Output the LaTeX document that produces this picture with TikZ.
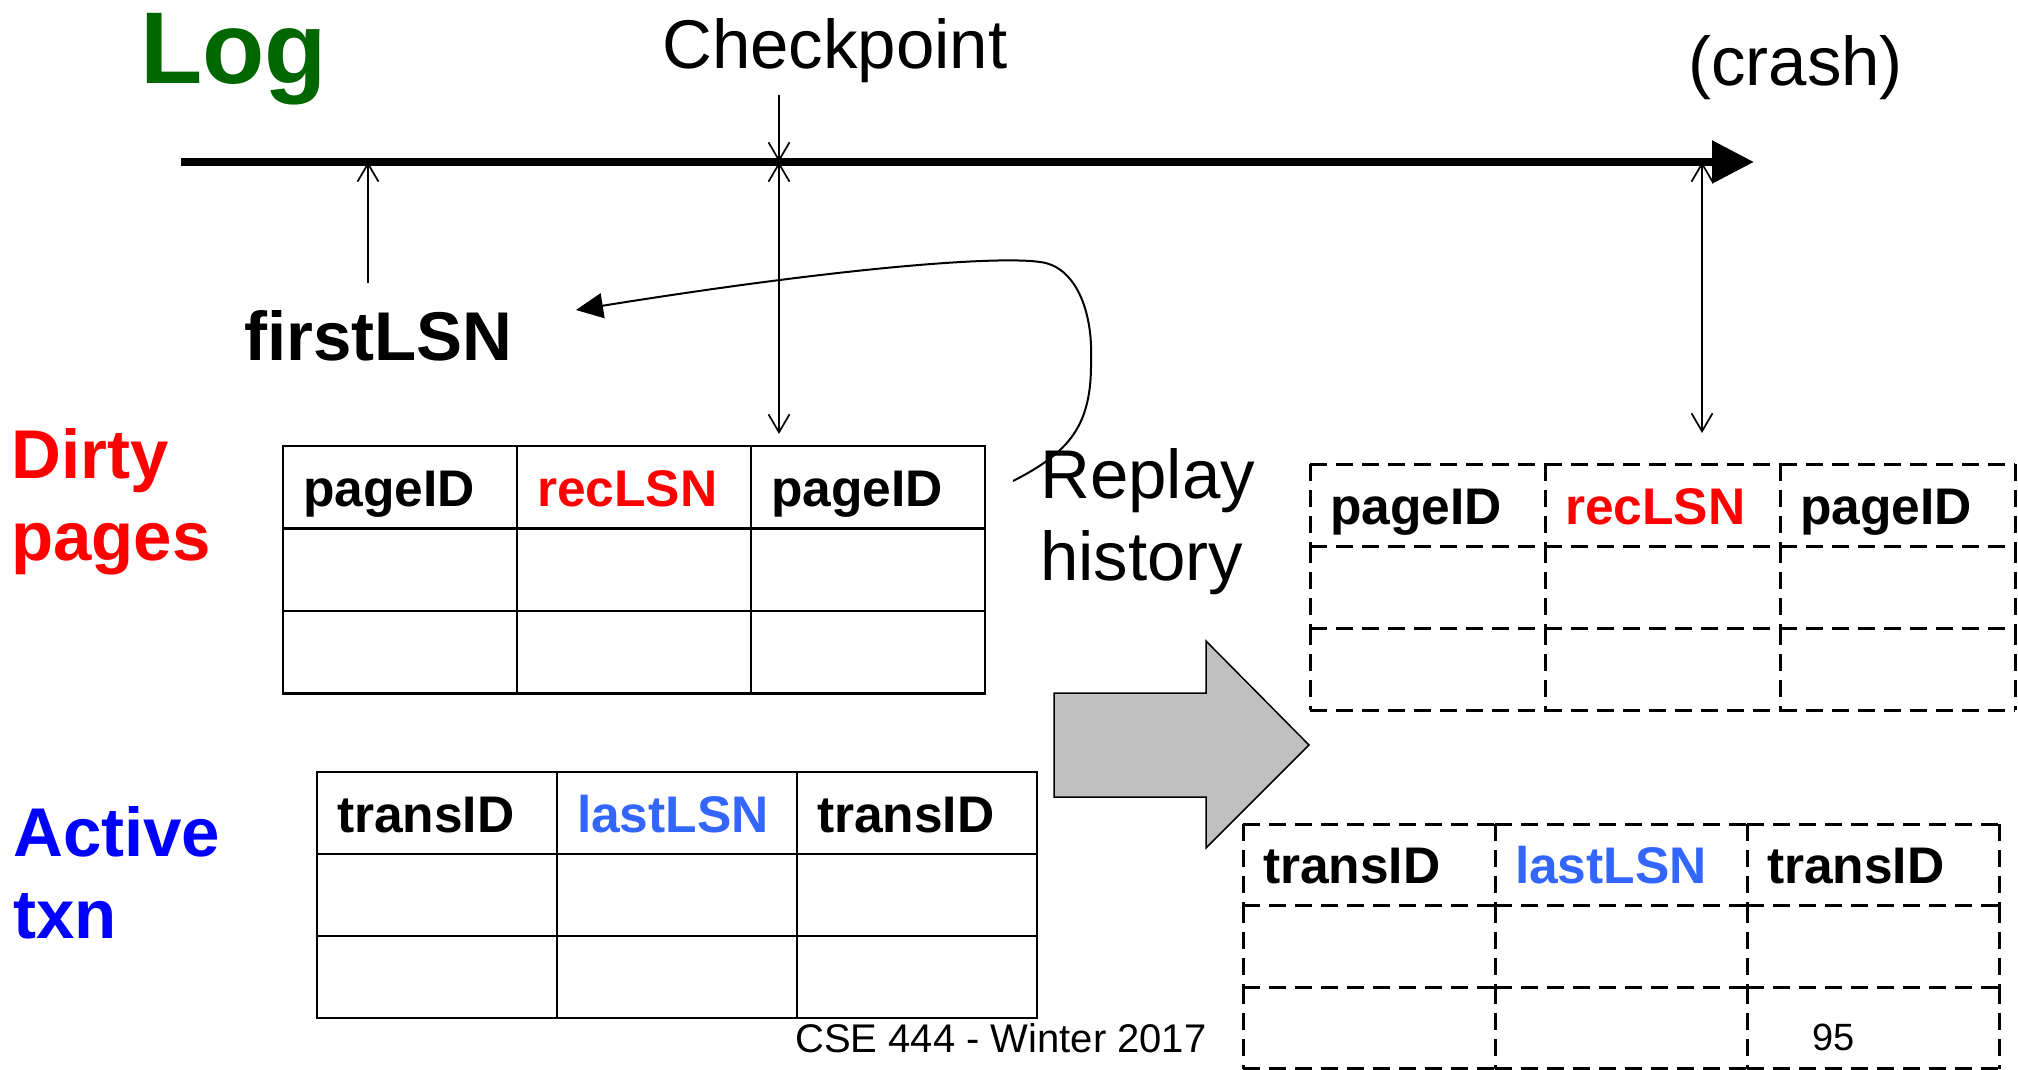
\documentclass[tikz,border=0pt]{standalone}
\usepackage{fontspec}
\setmainfont{Liberation Sans}
\usepackage{tikz}
\usetikzlibrary{arrows.meta, positioning, matrix}

\definecolor{loggreen}{RGB}{0,102,0}
\definecolor{lastblue}{RGB}{51,102,255}
\definecolor{redogray}{RGB}{192,192,192}
\newcommand{\hdrfont}{\fontsize{51.5}{62}\selectfont\bfseries}

\begin{document}
\begin{tikzpicture}[
  x=1pt, y=-1pt,
  txt/.style={inner sep=0pt, anchor=base west, align=left, font=\fontsize{69}{82}\selectfont},
  heading/.style={txt, font=\fontsize{69}{82}\selectfont\bfseries},
  logline/.style={line width=8.5pt, -{Triangle[length=42pt, width=41pt]}},
  pointer/.style={line width=1.7pt, -{Straight Barb[length=18pt, width=21pt]}},
  twoway/.style={line width=1.7pt, {Straight Barb[length=18pt, width=21pt]}-{Straight Barb[length=18pt, width=21pt]}},
  replay/.style={line width=2pt, -{Triangle[length=27pt, width=25pt]}},
  tcell/.style 2 args={text width=#1, minimum height=#2, inner xsep=20pt, inner ysep=0pt, text height=38pt, text depth=0pt, align=left, outer sep=0pt, font=\hdrfont},
  datatable/.style 2 args={matrix of nodes, nodes in empty cells, inner sep=0pt, outer sep=0pt, row sep=0pt, column sep=0pt, anchor=north west, nodes={tcell={#1}{#2}}},
  solidgrid/.style={line width=2.5pt, line cap=rect},
  dashgrid/.style={line width=3pt, dash pattern=on 17pt off 9pt},
  bigarrow/.style={line width=1.5pt, fill=redogray}
]
\useasboundingbox (0,0) rectangle (2018,1070);

% the log
\node[txt, font=\fontsize{102}{120}\selectfont\bfseries, text=loggreen] (log) at (140,84) {Log};
\node[txt] (checkpoint) at (662,69) {Checkpoint};
\node[txt] (crash) at (1688,86) {(crash)};
\coordinate (logstart) at (181,162);
\coordinate (logend) at (1754,162);
\coordinate (fl) at (368,162);
\coordinate (cp) at (779,162);
\coordinate (cr) at (1702,162);
\draw[logline] (logstart) -- (logend);

\node[heading] (firstlsn) at (244,360) {firstLSN};

% side labels (anchored on their last line)
\node[heading, text=red] (dirty) at (11,560) {Dirty\\pages};
\node[heading, text=blue] (active) at (13,938) {Active\\txn};
\node[txt] (replaytxt) at (1040,580) {Replay\\history};

% tables at the checkpoint
\matrix (dpold) [datatable={194pt}{82.5pt}] at (283,446) {
  pageID & |[text=red]| recLSN & pageID \\
  & & \\
  & & \\
};
\matrix (atold) [datatable={200pt}{82pt}] at (317,772) {
  transID & |[text=lastblue]| lastLSN & transID \\
  & & \\
  & & \\
};

% tables at the crash
\matrix (dpnew) [datatable={195pt}{82pt}] at (1310,464) {
  pageID & |[text=red]| recLSN & pageID \\
  & & \\
  & & \\
};
\matrix (atnew) [datatable={212pt}{81.5pt}] at (1243,824) {
  transID & |[text=lastblue]| lastLSN & transID \\
  & & \\
  & & \\
};

\foreach \tb/\ls in {dpold/solidgrid, atold/solidgrid, dpnew/dashgrid, atnew/dashgrid} {
  \foreach \rw in {1,2,3} {
    \foreach \cl in {1,2,3} {
      \draw[\ls] (\tb-\rw-\cl.north west) -- (\tb-\rw-\cl.north east);
      \draw[\ls] (\tb-\rw-\cl.north west) -- (\tb-\rw-\cl.south west);
    }
    \draw[\ls] (\tb-\rw-3.north east) -- (\tb-\rw-3.south east);
    \draw[\ls] (\tb-3-\rw.south west) -- (\tb-3-\rw.south east);
  }
}

% pointers onto the log
\draw[pointer, shorten <=27pt] (firstlsn.north -| fl) -- (fl);
\draw[pointer, shorten <=11pt] (checkpoint.south -| cp) -- (cp);
\draw[twoway, shorten >=12pt] (cp) -- (cp |- dpold.north);
\draw[twoway, shorten >=31pt] (cr) -- (cr |- dpnew.north);

% replay history
\coordinate (replaystart) at (1013,481);
\coordinate (replayend) at (576,310);
\draw[replay] (replaystart) .. controls (1070,452) and (1092,425) .. (1091,360)
  .. controls (1093,310) and (1075,266) .. (1040,262)
  .. controls (1000,256) and (850,266) .. (replayend);

\draw[bigarrow] (1054,693) -- (1206,693) -- (1206,641) -- (1309,745) -- (1206,848) -- (1206,797) -- (1054,797) -- cycle;

\node[txt, font=\fontsize{40}{48}\selectfont] (footer) at (795,1052) {CSE 444 - Winter 2017};
\node[txt, font=\fontsize{38}{46}\selectfont] (pagenum) at (1812,1050) {95};
\end{tikzpicture}
\end{document}
